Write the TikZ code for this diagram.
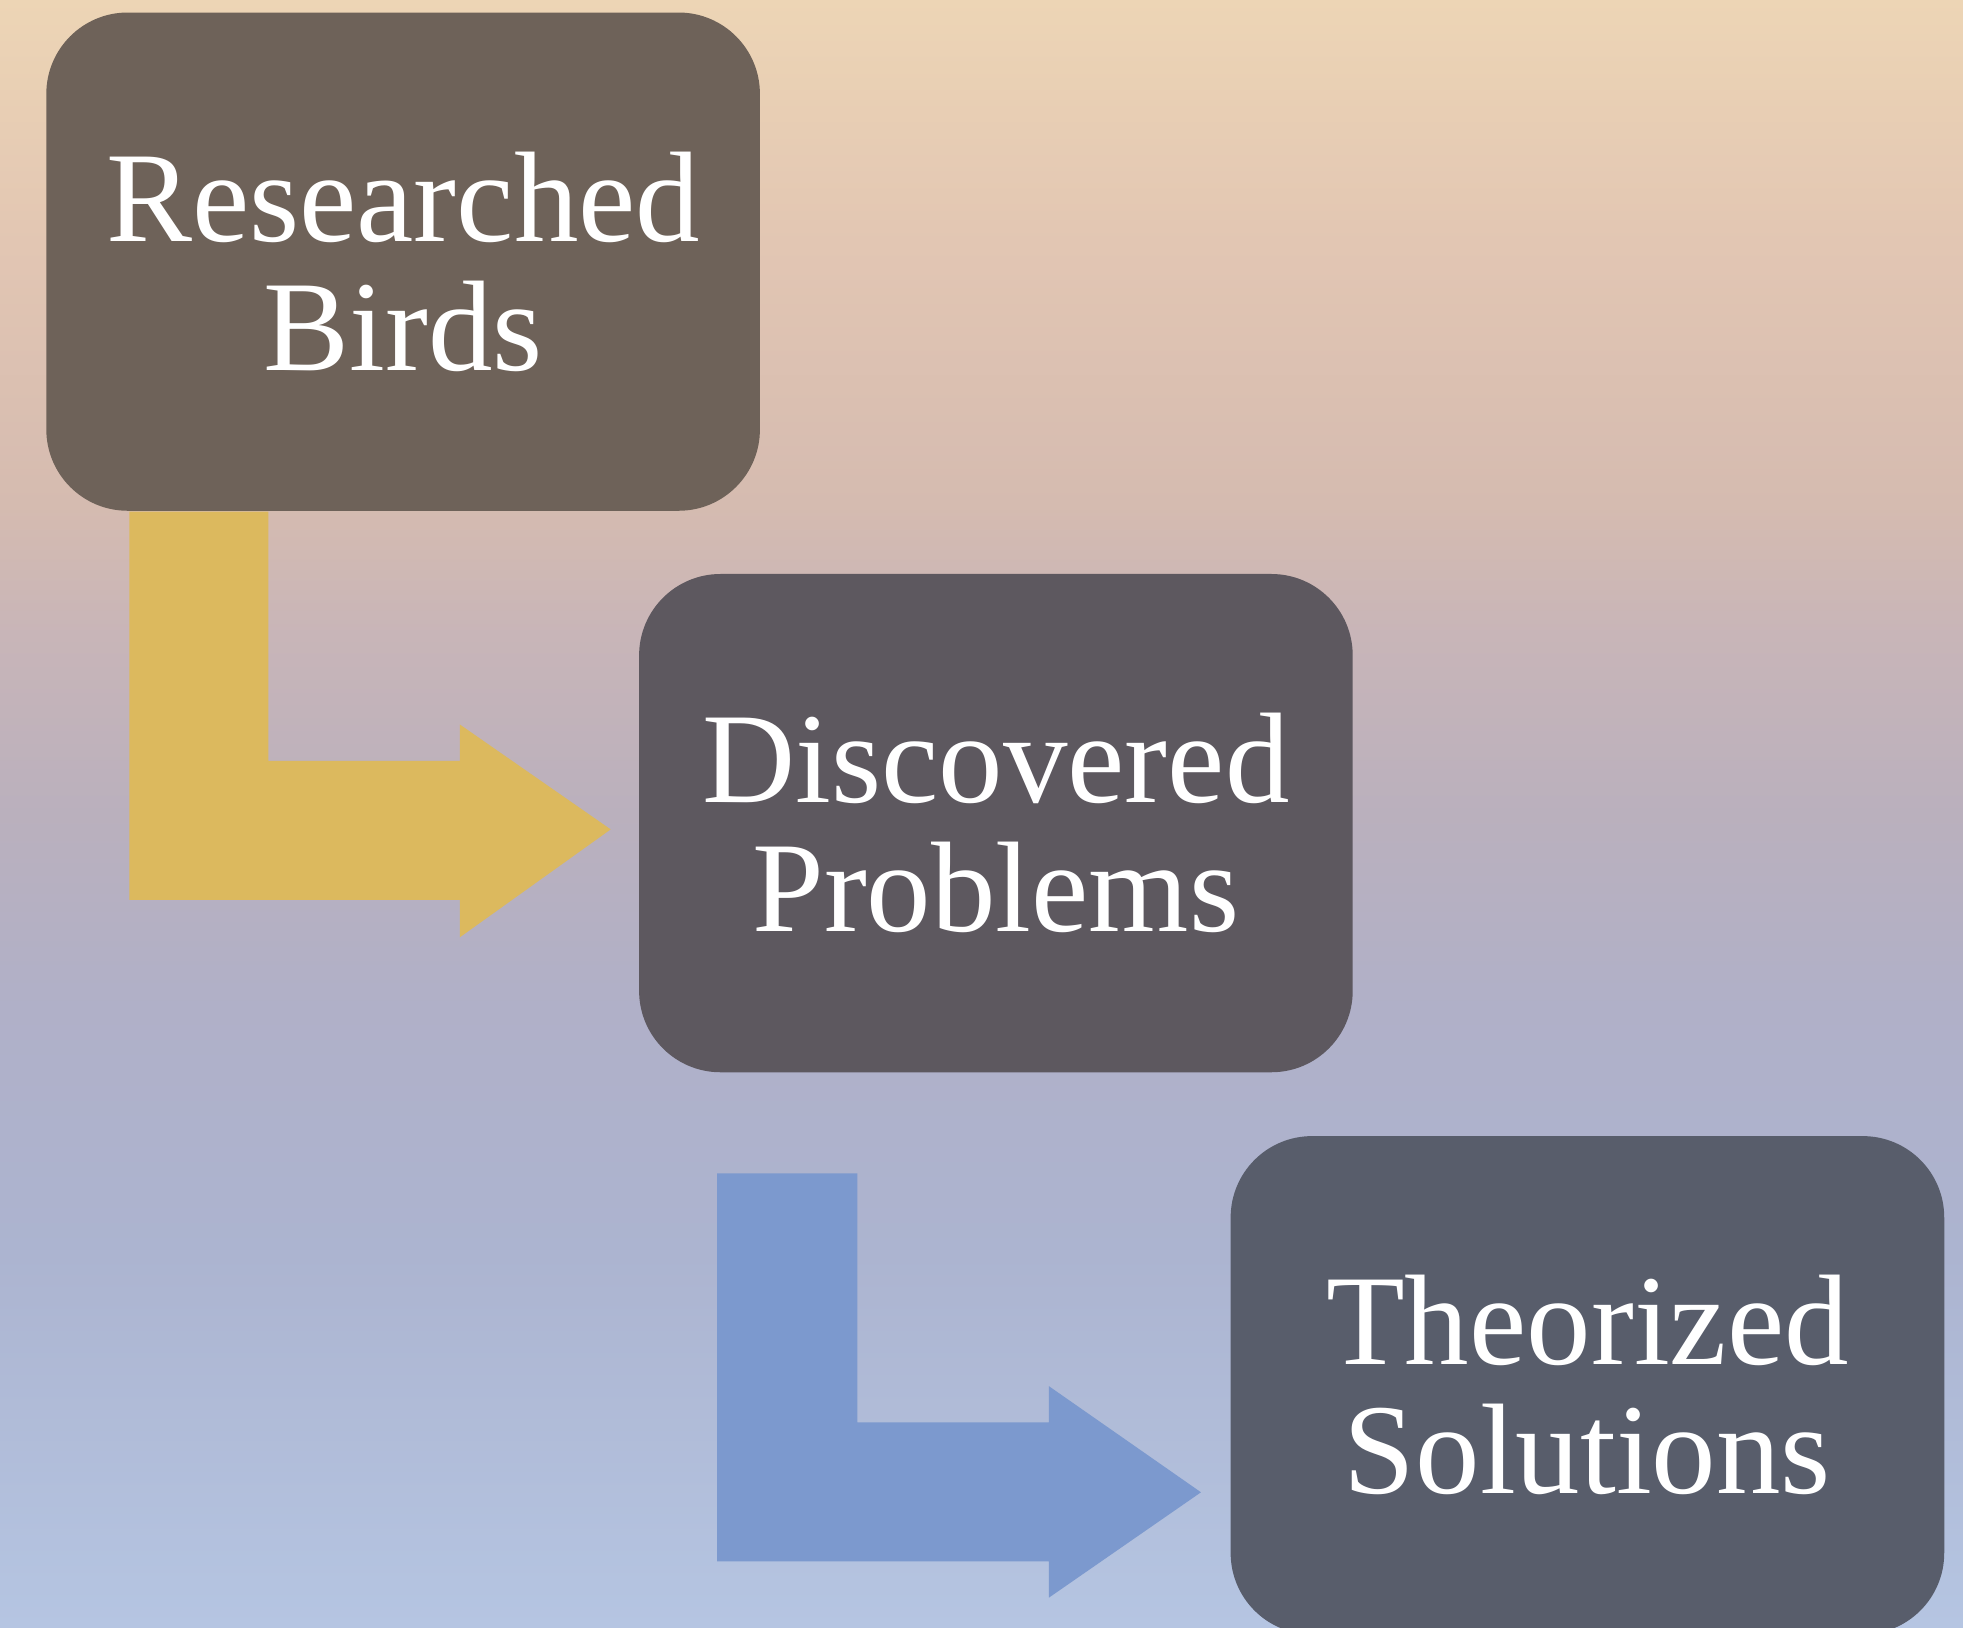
\documentclass[tikz,border=0pt]{standalone}
\usepackage{fontspec}
\setmainfont{Liberation Serif}
\usetikzlibrary{calc}

\definecolor{boxbrown}{HTML}{6E6259}
\definecolor{boxgrey}{HTML}{5D585F}
\definecolor{boxslate}{HTML}{585D6B}
\definecolor{arrowgold}{HTML}{DCB95E}
\definecolor{arrowblue}{HTML}{7C99CE}
\definecolor{skyA}{HTML}{B5C5E2}
\definecolor{skyB}{HTML}{ACB4D0}
\definecolor{skyC}{HTML}{B0B0C8}
\definecolor{skyD}{HTML}{BAB0BD}
\definecolor{skyE}{HTML}{C8B5B8}
\definecolor{skyF}{HTML}{D5BBB0}
\definecolor{skyG}{HTML}{E2C6B3}
\definecolor{skyH}{HTML}{EDD5B5}

% the path covers the middle 50bp of the shading
\pgfdeclareverticalshading{skybg}{100bp}{%
  color(0bp)=(skyA); color(25bp)=(skyA); color(36.5bp)=(skyB); color(44bp)=(skyC);
  color(50bp)=(skyD); color(55.5bp)=(skyE); color(59.5bp)=(skyF); color(67.5bp)=(skyG);
  color(75bp)=(skyH); color(100bp)=(skyH)}

\begin{document}
\begin{tikzpicture}[
    stepbox/.style={rounded corners=0.65cm, minimum width=5.7cm, minimum height=3.98cm,
      text=white, align=center, inner sep=0pt,
      font=\fontsize{29.3}{29.3}\selectfont}
  ]
        % Background
        \useasboundingbox (0,0) rectangle (15.68,-13.00);
        \clip (0,0) rectangle (15.68,-13.00);
        \shade[shading=skybg] (0,0) rectangle (15.68,-13.00);

        % Boxes
        \node[stepbox, fill=boxbrown] (birds) at (3.22,-2.09) {Researched\\Birds};
        \node[stepbox, fill=boxgrey] (problems) at (7.955,-6.575) {Discovered\\Problems};
        \node[stepbox, fill=boxslate] (solutions) at (12.68,-11.065) {Theorized\\Solutions};

        % Gold arrow from birds to problems
        \fill[arrowgold] ($(birds.south west)+(0.67,0)$) -- ($(birds.south west)+(1.78,0)$)
            -- ($(birds.south west)+(1.78,-1.99)$) -- ($(birds.south west)+(3.31,-1.99)$)
            -- ($(birds.south west)+(3.31,-1.70)$) -- ($(problems.west)+(-0.22,-0.05)$)
            -- ($(birds.south west)+(3.31,-3.40)$) -- ($(birds.south west)+(3.31,-3.10)$)
            -- ($(birds.south west)+(0.67,-3.10)$) -- cycle;

        % Blue arrow from problems to solutions
        \fill[arrowblue] ($(problems.south west)+(0.63,-0.80)$) -- ($(problems.south west)+(1.75,-0.80)$)
            -- ($(problems.south west)+(1.75,-2.79)$) -- ($(problems.south west)+(3.28,-2.79)$)
            -- ($(problems.south west)+(3.28,-2.50)$) -- ($(solutions.west)+(-0.23,-0.855)$)
            -- ($(problems.south west)+(3.28,-4.19)$) -- ($(problems.south west)+(3.28,-3.90)$)
            -- ($(problems.south west)+(0.63,-3.90)$) -- cycle;
\end{tikzpicture}
\end{document}
